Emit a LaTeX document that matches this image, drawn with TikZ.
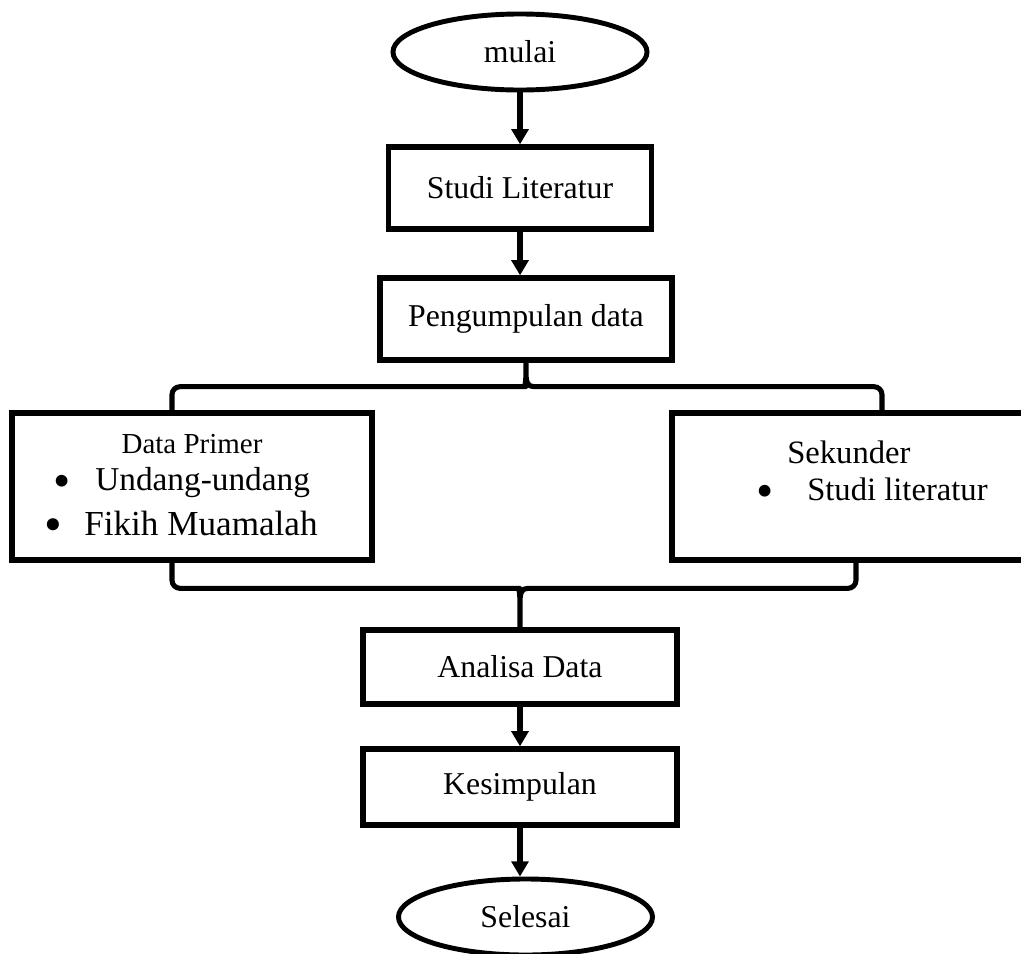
\documentclass[tikz,border=0pt]{standalone}
\usepackage{fontspec}
\setmainfont{Liberation Serif}
\usetikzlibrary{shapes,arrows.meta,positioning,calc}

\tikzset{
    flowbox/.style={draw, rectangle, line width=3.8pt, inner sep=0pt, font=\fontsize{22.6}{27}\selectfont},
    terminal/.style={draw, ellipse, line width=3.5pt, inner sep=0pt, minimum width=6.35cm, minimum height=1.9cm, font=\fontsize{22.6}{27}\selectfont},
    flowarrow/.style={line width=3.8pt, -{Triangle[width=0.42cm,length=0.38cm]}},
    bracket/.style={line width=3.6pt, line join=round},
    itemtext/.style={inner sep=0pt, anchor=base west},
    bulletmark/.style={inner sep=0pt, anchor=base}
}

\begin{document}
\begin{tikzpicture}[x=0.025cm, y=-0.025cm]
    \fill[white] (0,0) rectangle (1021,954);
    \useasboundingbox (0,0) rectangle (1021,954);

    % main column
    \node[terminal] (mulai) at (520,52) {mulai};
    \node[flowbox, minimum width=6.575cm, minimum height=2.05cm] (studi) at (520,188) {Studi Literatur};
    \node[flowbox, minimum width=7.3cm, minimum height=2.05cm] (peng) at (526,319) {Pengumpulan data};

    % data sources
    \node[flowbox, minimum width=9cm, minimum height=3.675cm] (primer) at (192,486.5) {};
    \node[flowbox, minimum width=9.2cm, minimum height=3.675cm] (sek) at (856,486.5) {};

    \node[bulletmark, font=\fontsize{20.6}{24}\selectfont] (primertitle) at (192,453) {Data Primer};
    \node[bulletmark, font=\fontsize{35}{40}\selectfont] (bulA) at (62,497) {•};
    \node[itemtext, font=\fontsize{23.7}{28}\selectfont] (undang) at (95,490) {Undang-undang};
    \node[bulletmark, font=\fontsize{36}{40}\selectfont] (bulB) at (53,541) {•};
    \node[itemtext, font=\fontsize{25}{30}\selectfont] (fikih) at (84,535) {Fikih Muamalah};

    \node[itemtext, font=\fontsize{23.2}{28}\selectfont] (sektitle) at (787,463) {Sekunder};
    \node[bulletmark, font=\fontsize{35}{40}\selectfont] (bulC) at (765,507) {•};
    \node[itemtext, font=\fontsize{23.2}{28}\selectfont] (studilit) at (807,500) {Studi literatur};

    % lower column
    \node[flowbox, minimum width=7.85cm, minimum height=1.85cm] (ana) at (520,667) {Analisa Data};
    \node[flowbox, minimum width=7.85cm, minimum height=1.9cm] (kes) at (520,787) {Kesimpulan};
    \node[terminal] (sel) at (525.5,917) {Selesai};

    % arrows
    \draw[flowarrow] (mulai.south) -- (studi.north);
    \draw[flowarrow] (studi.south) -- (studi.south |- peng.north);
    \draw[flowarrow] (ana.south) -- (kes.north);
    \draw[flowarrow] (kes.south) -- (kes.south |- sel.north);

    % brackets
    \draw[bracket] ([xshift=-0.5cm]primer.north) [rounded corners=0.2cm] |- ($(peng.south)+(-8,24)$)
        [sharp corners] .. controls +(6,0) and +(0,10) .. ($(peng.south)+(0,10)$) -- (peng.south)
        -- ($(peng.south)+(0,10)$) .. controls +(0,10) and +(-6,0) .. ($(peng.south)+(8,24)$)
        [rounded corners=0.2cm] -| ([xshift=0.65cm]sek.north);
    \draw[bracket] ([xshift=-0.5cm]primer.south) [rounded corners=0.2cm] |- ($(ana.north)+(-8,-39)$)
        [sharp corners] .. controls +(6,0) and +(0,-10) .. ($(ana.north)+(0,-25)$) -- (ana.north)
        -- ($(ana.north)+(0,-25)$) .. controls +(0,-10) and +(-6,0) .. ($(ana.north)+(8,-39)$)
        [rounded corners=0.2cm] -| (sek.south);
\end{tikzpicture}
\end{document}
